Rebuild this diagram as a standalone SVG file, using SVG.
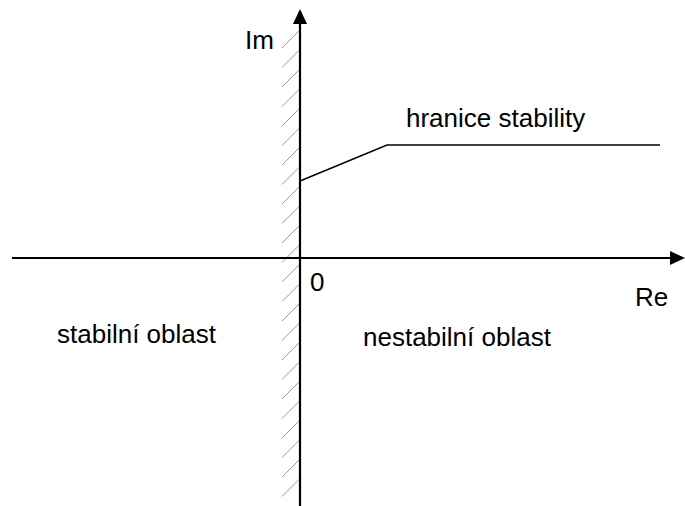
<svg xmlns="http://www.w3.org/2000/svg" width="685" height="506" viewBox="0 0 685 506">
<defs>
<style>
.t{font-family:"Liberation Sans",Arial,sans-serif;font-size:26px;fill:#000}
.ax{stroke:#000;stroke-width:2.2;fill:none}
.h{stroke:#999;stroke-width:1}
.b{stroke:#000;stroke-width:1.5;fill:none}
</style>
</defs>
<rect width="685" height="506" fill="#fff"/>
<g id="hatch">
<path class="h" d="M300,30l-18,18M300,49.5l-18,18M300,69l-18,18M300,88.5l-18,18M300,108l-18,18M300,127.5l-18,18M300,147l-18,18M300,166.5l-18,18M300,186l-18,18M300,205.5l-18,18M300,225l-18,18M300,244.5l-18,18M300,264l-18,18M300,283.5l-18,18M300,303l-18,18M300,322.5l-18,18M300,342l-18,18M300,361.5l-18,18M300,381l-18,18M300,400.5l-18,18M300,420l-18,18M300,439.5l-18,18M300,459l-18,18M300,478.5l-18,18"/>
</g>
<g id="connectors">
<line class="ax" x1="300" y1="22" x2="300" y2="506"/>
<polygon points="300,9 293,24 307,24" fill="#000"/>
<line class="ax" x1="12" y1="258" x2="672" y2="258"/>
<polygon points="685,258 670,251 670,265" fill="#000"/>
<polyline class="b" points="300,181 387,145 660,145"/>
</g>
<g id="labels">
<text class="t" x="245" y="49">Im</text>
<text class="t" x="406" y="127">hranice stability</text>
<text class="t" x="310" y="291">0</text>
<text class="t" x="635" y="306">Re</text>
<text class="t" x="57" y="343">stabilní oblast</text>
<text class="t" x="363" y="346">nestabilní oblast</text>
</g>
</svg>
